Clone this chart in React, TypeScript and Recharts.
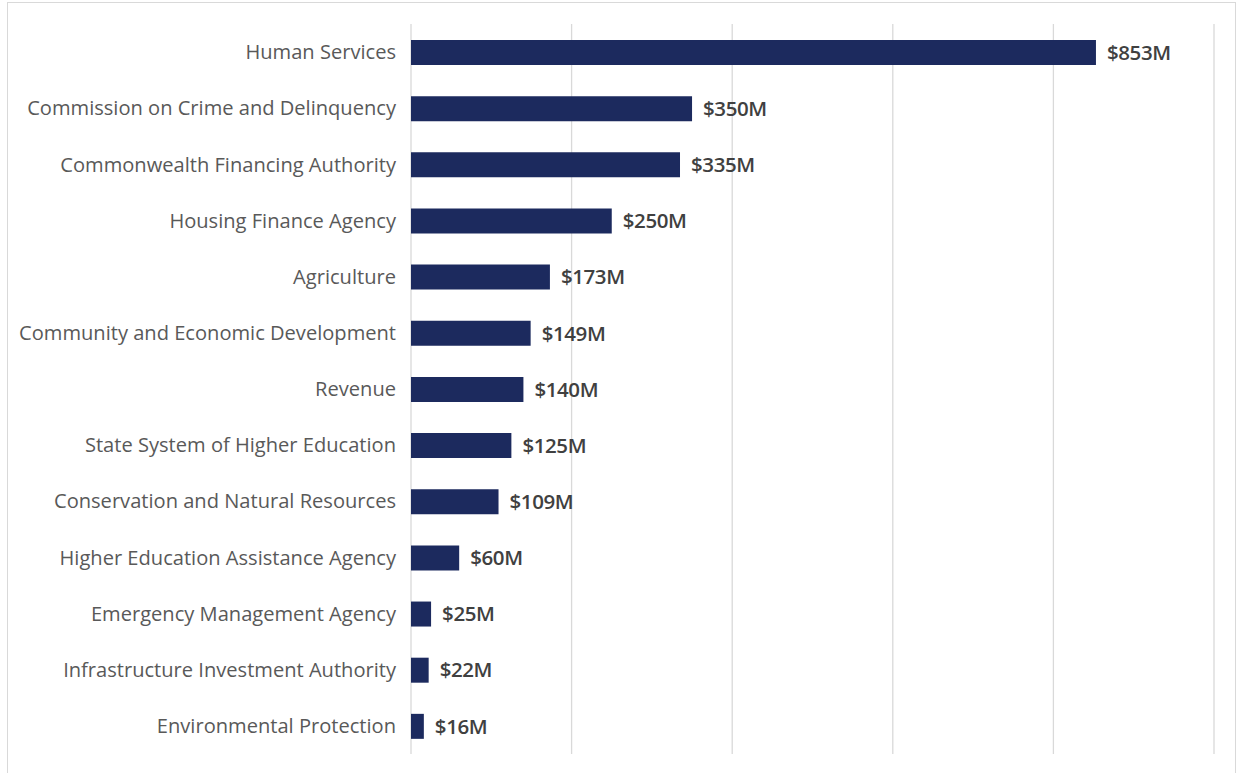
import { BarChart, Bar, XAxis, YAxis, CartesianGrid, LabelList } from "recharts";

const agencies = [
  "Human Services",
  "Commission on Crime and Delinquency",
  "Commonwealth Financing Authority",
  "Housing Finance Agency",
  "Agriculture",
  "Community and Economic Development",
  "Revenue",
  "State System of Higher Education",
  "Conservation and Natural Resources",
  "Higher Education Assistance Agency",
  "Emergency Management Agency",
  "Infrastructure Investment Authority",
  "Environmental Protection",
];

const amounts = [853, 350, 335, 250, 173, 149, 140, 125, 109, 60, 25, 22, 16];

const xTicks = [0, 200, 400, 600, 800, 1000];

const data = agencies.map((name, i) => ({ name, amount: amounts[i] }));

export default function App() {
  return (
    <div style={{ position: "absolute", left: 0, top: 0, width: 1236, height: 773, background: "#fff", overflow: "hidden" }}>
      <div
        style={{
          position: "absolute",
          left: 7,
          top: 2,
          width: 1227,
          height: 800,
          border: "1px solid #d9d9d9",
        }}
      />
      <BarChart
        width={1236}
        height={773}
        data={data}
        layout="vertical"
        margin={{ top: 24, right: 22, bottom: 19, left: 0 }}
        barSize={25}
        style={{ fontFamily: "'Open Sans', sans-serif" }}
      >
        <CartesianGrid horizontal={false} stroke="#d9d9d9" strokeWidth={1.3} />
        <XAxis type="number" domain={[0, 1000]} ticks={xTicks} hide />
        <YAxis
          type="category"
          dataKey="name"
          width={411}
          axisLine={false}
          tickLine={false}
          tickSize={0}
          tickMargin={15}
          interval={0}
          tick={{ fill: "#595959", fontSize: 20.1 }}
        />
        <Bar dataKey="amount" fill="#1c2a5e" isAnimationActive={false}>
          <LabelList
            dataKey="amount"
            position="right"
            offset={11}
            formatter={(v: any) => `$${v}M`}
            style={{ fill: "#404040", fontSize: 20.5, fontWeight: 600, letterSpacing: -0.4 }}
          />
        </Bar>
      </BarChart>
    </div>
  );
}
